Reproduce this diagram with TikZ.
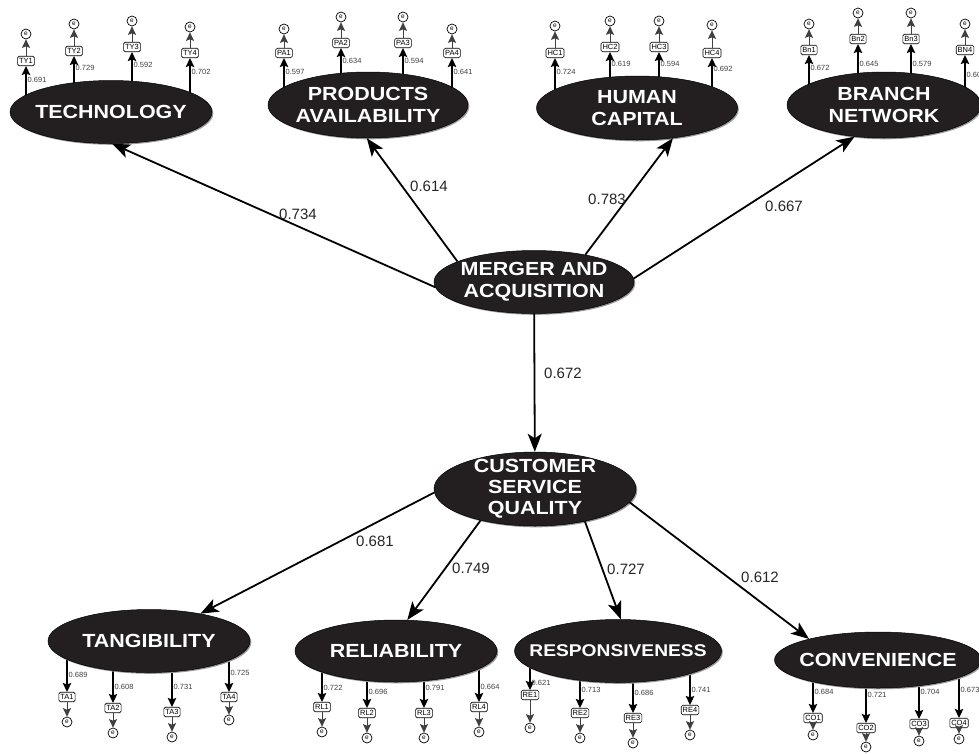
\documentclass[tikz,border=0pt]{standalone}
\usepackage{fontspec}
\setmainfont{Liberation Sans}
\newfontfamily\lvfont[FakeStretch=1.13]{Liberation Sans}
\usetikzlibrary{shapes.geometric,arrows.meta,shadows}
\pgfdeclarelayer{bg}
\pgfsetlayers{bg,main}
\definecolor{lvfill}{RGB}{35,31,32}
\tikzset{
  lv/.style={ellipse, fill=lvfill, draw=black, line width=0.5pt, inner sep=0pt,
    drop shadow={shadow xshift=1.3pt, shadow yshift=-1.3pt, fill=black!40, opacity=1}},
  lvtxt/.style={text=white, font=\lvfont\bfseries\fontsize{19}{22}\selectfont, align=center, inner sep=0pt},
  lvtxtc/.style={text=white, font=\lvfont\bfseries\fontsize{19}{21}\selectfont, align=center, inner sep=0pt},
  lvtxts/.style={text=white, font=\lvfont\bfseries\fontsize{17}{22}\selectfont, align=center, inner sep=0pt},
  obs/.style={draw=black, line width=0.6pt, rounded corners=1.5pt, fill=white,
    font=\fontsize{7.5}{8}\selectfont, inner xsep=1.5pt, inner ysep=1pt, minimum height=9.5pt},
  err/.style={circle, draw=black, line width=0.7pt, fill=white, minimum size=10pt, inner sep=0pt,
    font=\fontsize{6.5}{6.5}\selectfont},
  ind1/.style={line width=1.4pt, -{Stealth[length=9pt,width=8.5pt,inset=1.5pt]}},
  ind2/.style={line width=0.9pt, black!75, -{Stealth[length=8.5pt,width=8pt,inset=1.5pt]}},
  load/.style={anchor=west, inner sep=0pt, text=black!75, font=\fontsize{7.5}{8}\selectfont},
  path/.style={line width=1.8pt, -{Stealth[length=18pt,width=14pt,inset=4.5pt]}},
  plab/.style={inner sep=0pt, text=black!85, font=\fontsize{15}{16}\selectfont},
}
\newcommand\indup[8]{%
  \node[obs] (#1) at (#3,#4) {#6};
  \node[err] (#1e) at (#3,#5) {e};
  \draw[ind2] (#1) -- (#1e);
  \begin{pgfonlayer}{bg}\draw[ind1] (#1.south |- #2.center) -- (#1.south);\end{pgfonlayer}
  \node[load] (#1l) at (#3+1.5,#8) {#7};
}
\newcommand\inddown[8]{%
  \node[obs] (#1) at (#3,#4) {#6};
  \node[err] (#1e) at (#3,#5) {e};
  \draw[ind2] (#1) -- (#1e);
  \begin{pgfonlayer}{bg}\draw[ind1] (#1.north |- #2.center) -- (#1.north);\end{pgfonlayer}
  \node[load] (#1l) at (#3+1.5,#8) {#7};
}
\begin{document}
\begin{tikzpicture}[x=1pt,y=-1pt]
\useasboundingbox (0,0) rectangle (979,753);
\begin{pgfonlayer}{bg}\fill[white] (0,0) rectangle (979,753);\end{pgfonlayer}

% latent variables
\node[lv, minimum width=202pt, minimum height=63pt, label={[lvtxt]center:TECHNOLOGY}] (tech) at (111,112) {};
\node[lv, minimum width=200pt, minimum height=66pt, label={[lvtxt]center:{PRODUCTS\\AVAILABILITY}}] (pa) at (368,105) {};
\node[lv, minimum width=201pt, minimum height=64pt, label={[lvtxt]center:{HUMAN\\CAPITAL}}] (hc) at (637,108) {};
\node[lv, minimum width=194pt, minimum height=66pt, label={[lvtxt]center:{BRANCH\\NETWORK}}] (bn) at (884,105) {};
\node[lv, minimum width=200pt, minimum height=63pt, label={[lvtxt]center:{MERGER AND\\ACQUISITION}}] (ma) at (534,282) {};
\node[lv, minimum width=202pt, minimum height=74pt, label={[lvtxtc]center:{CUSTOMER\\SERVICE\\QUALITY}}] (csq) at (535,489) {};
\node[lv, minimum width=202pt, minimum height=63pt, label={[lvtxt]center:TANGIBILITY}] (tang) at (149,641) {};
\node[lv, minimum width=202pt, minimum height=62pt, label={[lvtxt]center:RELIABILITY}] (rel) at (396,651) {};
\node[lv, minimum width=207pt, minimum height=63pt, label={[lvtxts]center:RESPONSIVENESS}] (resp) at (618,651) {};
\node[lv, minimum width=207pt, minimum height=56pt, label={[lvtxt]center:CONVENIENCE}] (conv) at (878,660) {};

% structural paths
\draw[path] (ma.183) -- (tech.-88);
\draw[path] (ma.165) -- (pa.-92);
\draw[path] (ma.28) -- (hc.-40);
\draw[path] (ma.2) -- (bn.-133);
\draw[path] (ma) -- (csq);
\draw[path] (csq.182) -- (tang.28);
\draw[path] (csq.210) -- (rel.70);
\draw[path] (csq.-33) -- (resp.85);
\draw[path] (csq.-8) -- (conv.163);

\node[plab] (l1) at (298,214) {0.734};
\node[plab] (l2) at (429,186) {0.614};
\node[plab] (l3) at (607,199) {0.783};
\node[plab] (l4) at (784,206) {0.667};
\node[plab] (l5) at (563,373) {0.672};
\node[plab] (l6) at (375,541) {0.681};
\node[plab] (l7) at (471,568) {0.749};
\node[plab] (l8) at (626,569) {0.727};
\node[plab] (l9) at (760,577) {0.612};

% upper indicators
\indup{ty1}{tech}{26}{61}{34}{TY1}{0.691}{80}
\indup{ty2}{tech}{74}{51}{24}{TY2}{0.729}{68}
\indup{ty3}{tech}{132}{47}{21}{TY3}{0.592}{65}
\indup{ty4}{tech}{190}{53}{27}{TY4}{0.702}{72}
\indup{pa1}{pa}{284}{53}{29}{PA1}{0.597}{72}
\indup{pa2}{pa}{341}{43}{17}{PA2}{0.634}{61}
\indup{pa3}{pa}{403}{43}{17}{PA3}{0.594}{61}
\indup{pa4}{pa}{452}{53}{29}{PA4}{0.641}{72}
\indup{hc1}{hc}{555}{53}{26}{HC1}{0.724}{72}
\indup{hc2}{hc}{610}{47}{21}{HC2}{0.619}{64}
\indup{hc3}{hc}{659}{47}{21}{HC3}{0.594}{64}
\indup{hc4}{hc}{712}{53}{25}{HC4}{0.692}{69}
\indup{bn1}{bn}{809}{50}{24}{Bn1}{0.672}{68}
\indup{bn2}{bn}{858}{39}{13}{Bn2}{0.645}{64}
\indup{bn3}{bn}{911}{39}{13}{Bn3}{0.579}{64}
\indup{bn4}{bn}{965}{50}{24}{BN4}{0.603}{75}

% lower indicators
\inddown{ta1}{tang}{67}{697}{722}{TA1}{0.689}{675}
\inddown{ta2}{tang}{113}{708}{733}{TA2}{0.608}{687}
\inddown{ta3}{tang}{172}{712}{737}{TA3}{0.731}{687}
\inddown{ta4}{tang}{229}{697}{720}{TA4}{0.725}{673}
\inddown{rl1}{rel}{322}{707}{732}{RL1}{0.722}{688}
\inddown{rl2}{rel}{367}{713}{738}{RL2}{0.696}{692}
\inddown{rl3}{rel}{424}{713}{738}{RL3}{0.791}{688}
\inddown{rl4}{rel}{479}{707}{732}{RL4}{0.664}{687}
\inddown{re1}{resp}{530}{695}{728}{RE1}{0.621}{683}
\inddown{re2}{resp}{580}{713}{738}{RE2}{0.713}{690}
\inddown{re3}{resp}{633}{718}{743}{RE3}{0.686}{693}
\inddown{re4}{resp}{690}{710}{735}{RE4}{0.741}{690}
\inddown{co1}{conv}{813}{718}{735}{CO1}{0.684}{692}
\inddown{co2}{conv}{866}{728}{747}{CO2}{0.721}{695}
\inddown{co3}{conv}{919}{724}{741}{CO3}{0.704}{692}
\inddown{co4}{conv}{959}{723}{739}{CO4}{0.673}{690}
\end{tikzpicture}
\end{document}
